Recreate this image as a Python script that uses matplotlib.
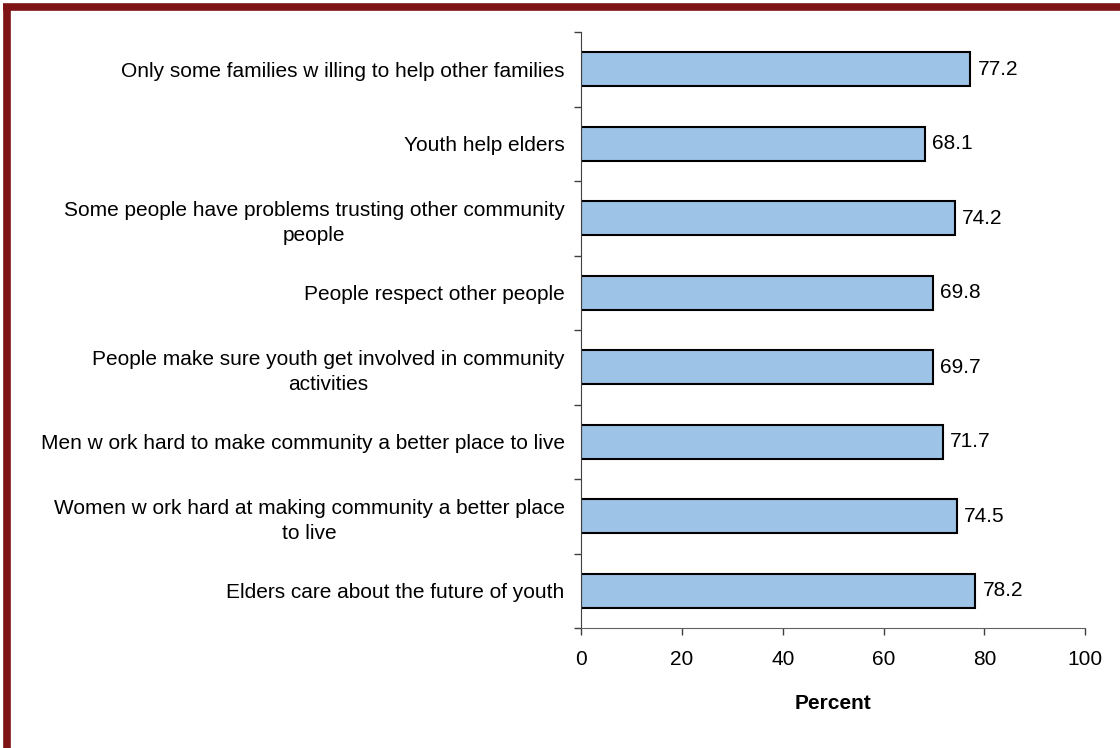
import matplotlib
matplotlib.use('Agg')
import matplotlib.pyplot as plt
import numpy as np
from matplotlib.lines import Line2D

# Survey items, listed bottom to top as drawn on the y axis
items = [
    "Elders care about the future of youth",
    "Women w ork hard at making community a better place\nto live",
    "Men w ork hard to make community a better place to live",
    "People make sure youth get involved in community\nactivities",
    "People respect other people",
    "Some people have problems trusting other community\npeople",
    "Youth help elders",
    "Only some families w illing to help other families",
]
percent = [78.2, 74.5, 71.7, 69.7, 69.8, 74.2, 68.1, 77.2]
x_ticks = [0, 20, 40, 60, 80, 100]

plt.rcParams['font.family'] = ['Liberation Sans', 'DejaVu Sans']
FS = 15

fig = plt.figure(figsize=(11.2, 7.48), dpi=100)
ax = fig.add_axes([0.519, 0.1604, 0.450, 0.7968])

y = np.arange(len(items))
ax.barh(y, percent, height=0.46, color='#9DC3E6',
        edgecolor='black', linewidth=1.5)

for yi, v in zip(y, percent):
    ax.text(v + 1.4, yi, f"{v:.1f}", va='center', ha='left', fontsize=FS)

ax.set_xlim(0, 100)
ax.set_ylim(-0.5, len(items) - 0.5)
ax.set_xticks(x_ticks)
ax.set_xticklabels([str(t) for t in x_ticks], fontsize=FS)

# category labels centred on bars, tick marks between categories
ax.set_yticks(y)
ax.set_yticklabels(items, fontsize=FS, multialignment='center',
                   linespacing=1.35)
ax.tick_params(axis='y', which='major', length=0, pad=12)
ax.set_yticks(np.arange(-0.5, len(items), 1), minor=True)
ax.tick_params(axis='y', which='minor', length=5, direction='out',
               color='#404040', width=1)
ax.tick_params(axis='x', length=5, direction='out', color='#404040',
               width=1, pad=11)

for side in ['top', 'right']:
    ax.spines[side].set_visible(False)
ax.spines['left'].set_color('#404040')
ax.spines['bottom'].set_color('#606060')

ax.set_xlabel("Percent", fontsize=FS, fontweight='bold', labelpad=18)

# dark red frame along the top and left edges
frame = '#7F1416'
fig.add_artist(Line2D([0.003, 1.0], [0.991, 0.991], color=frame,
                      linewidth=5.5, transform=fig.transFigure,
                      solid_capstyle='butt'))
fig.add_artist(Line2D([0.006, 0.006], [0.0, 0.995], color=frame,
                      linewidth=5.5, transform=fig.transFigure,
                      solid_capstyle='butt'))

fig.savefig('out.png', dpi=100)
